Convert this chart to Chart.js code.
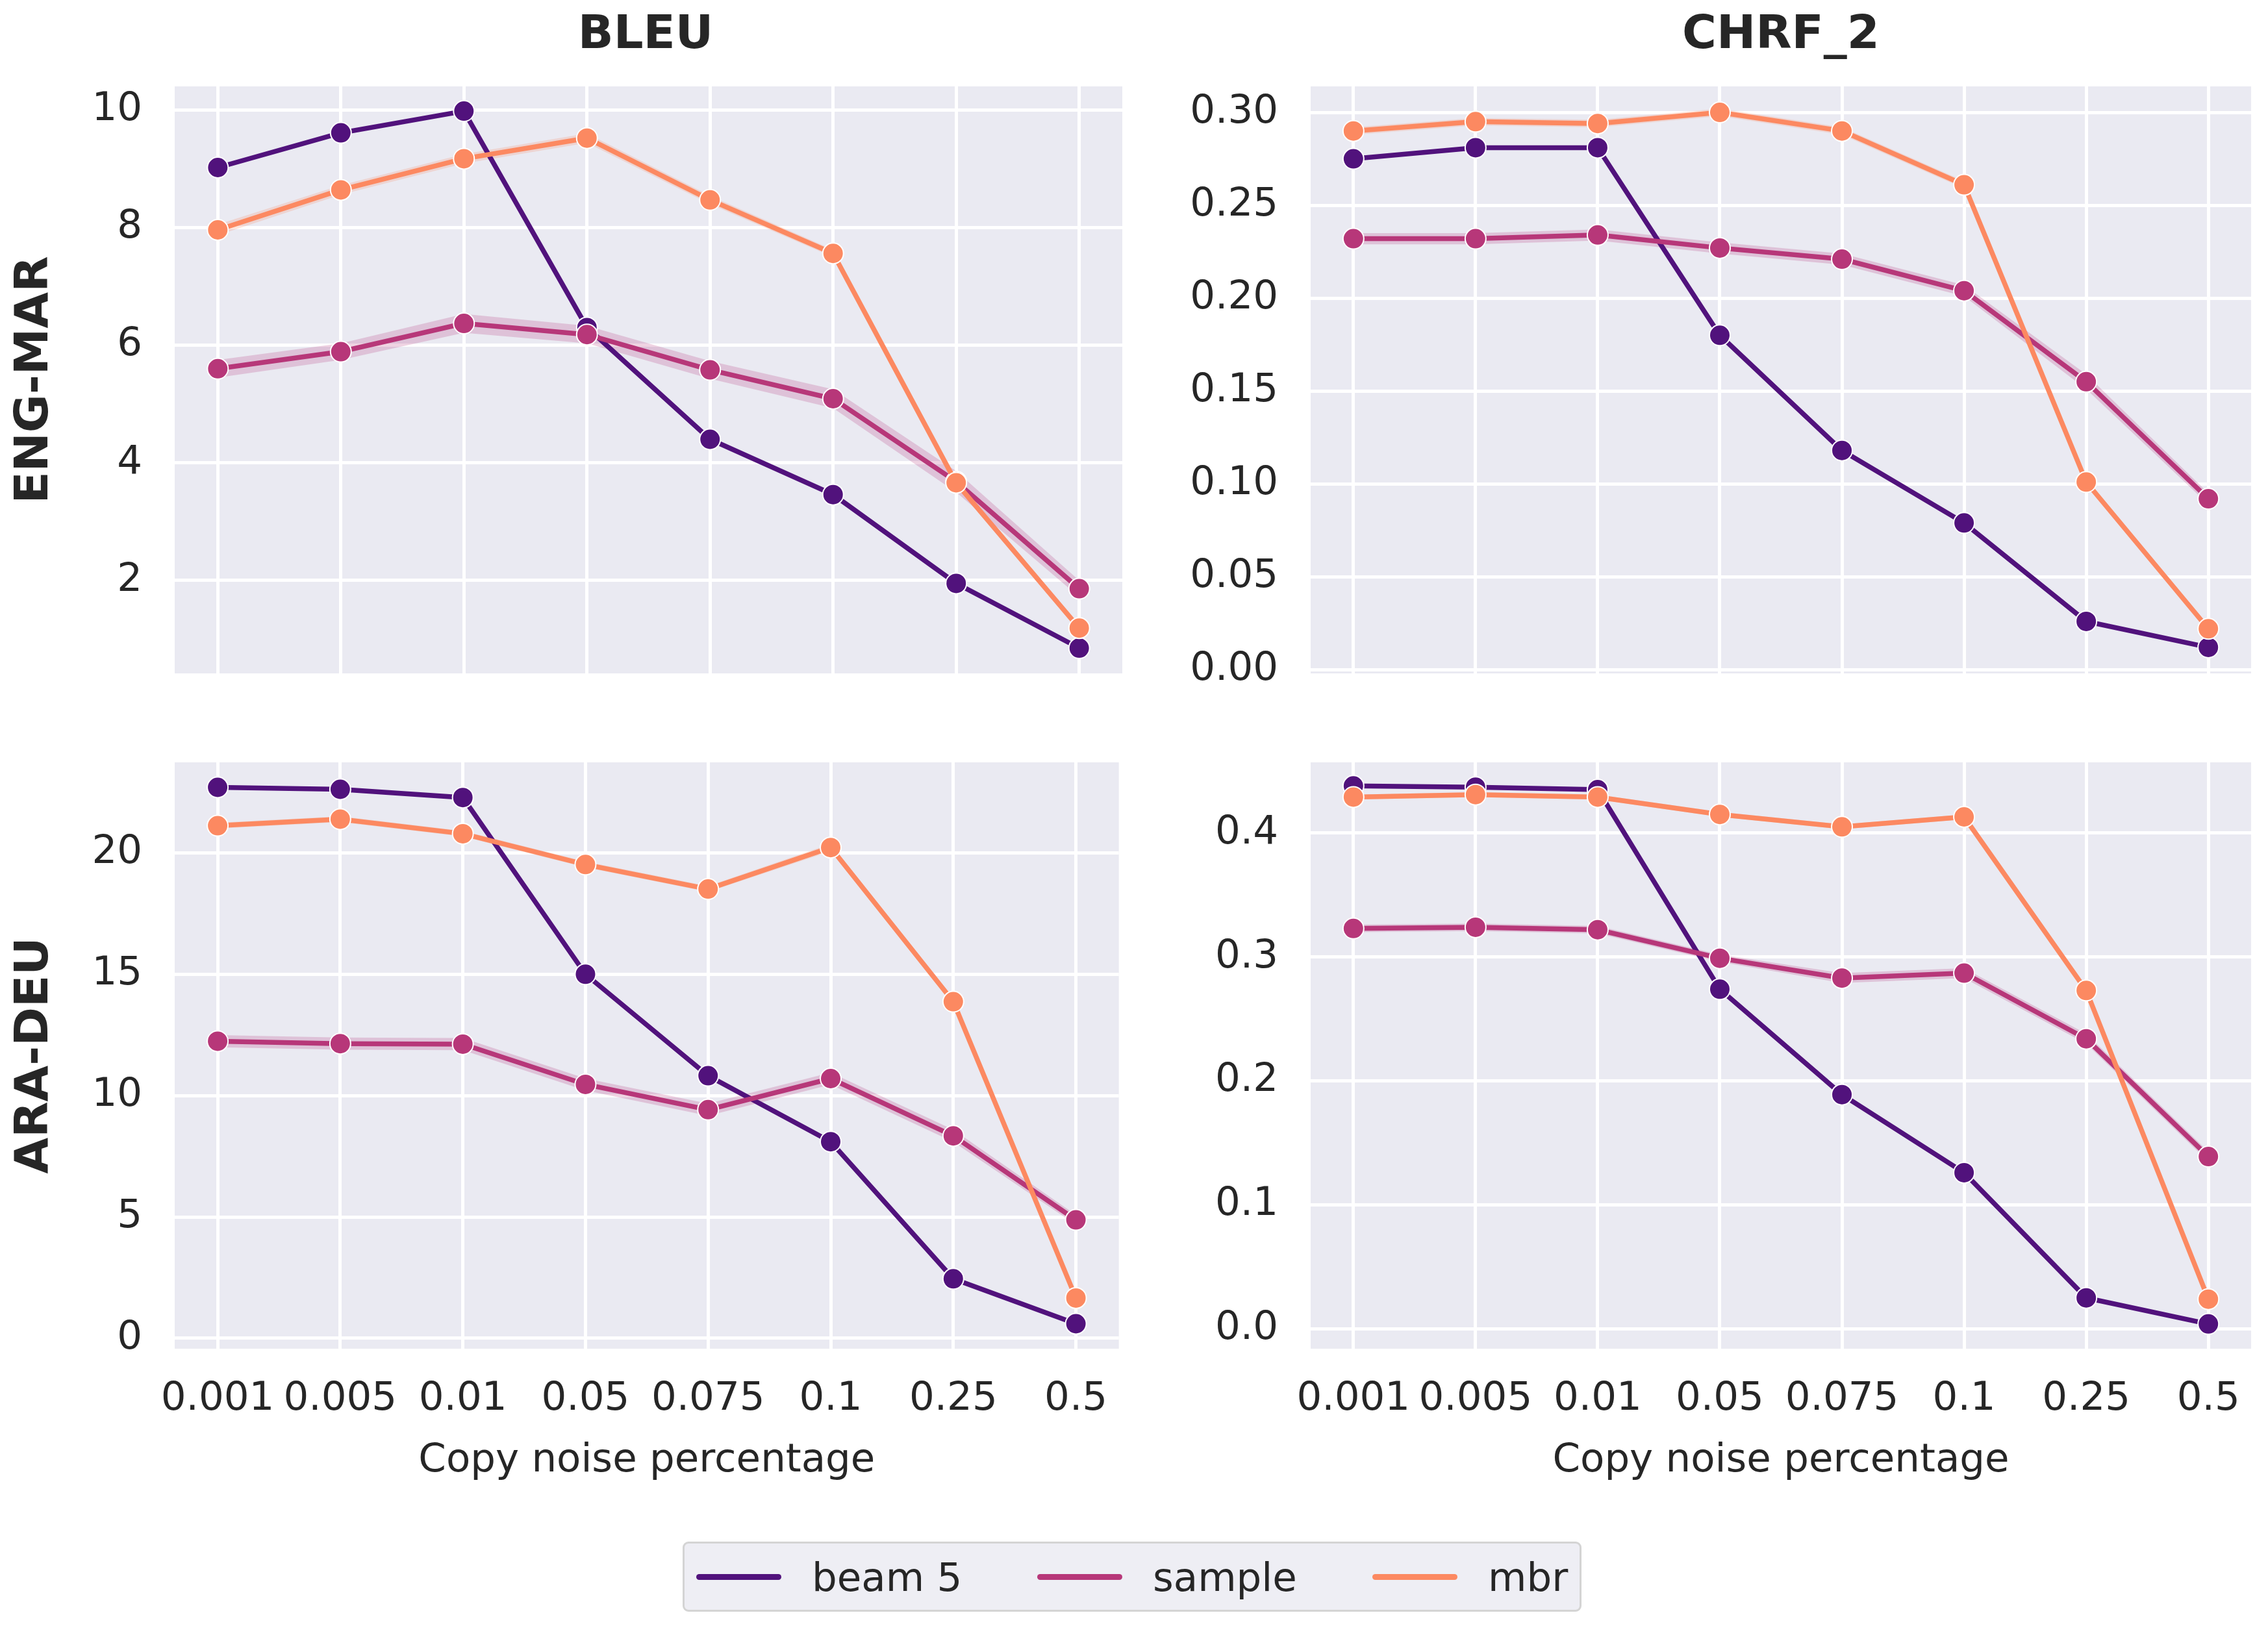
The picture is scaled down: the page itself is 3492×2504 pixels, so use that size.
<!DOCTYPE html>
<html>
<head>
<meta charset="utf-8">
<script src="https://cdn.jsdelivr.net/npm/chart.js@4.4.1/dist/chart.umd.min.js"></script>
<style>
html, body { margin: 0; padding: 0; background: #fff; }
body { width: 3492px; height: 2504px; position: relative; overflow: hidden; font-family: "DejaVu Sans", sans-serif; color: #262626; }
.panel { position: absolute; }
.coltitle { position: absolute; top: 6px; height: 86px; line-height: 86px; width: 1000px; margin-left: -500px;
  text-align: center; font-size: 72px; font-weight: bold; }
#legend { position: absolute; left: 1051px; top: 2374px; width: 1384px; height: 108px; box-sizing: border-box;
  background: #eeeef4; border: 3px solid #d4d4d4; border-radius: 9px; }
.item { position: absolute; top: 0; height: 100%; display: flex; align-items: center; font-size: 61px; }
.item .swatch { width: 131px; height: 9px; border-radius: 5px; margin-right: 47px; }
</style>
</head>
<body>
<div class="coltitle" style="left:994px">BLEU</div>
<div class="coltitle" style="left:2742px">CHRF_2</div>
<canvas id="engMarBleu" class="panel" style="left:0px;top:0px"></canvas>
<canvas id="engMarChrf" class="panel" style="left:1760px;top:0px"></canvas>
<canvas id="araDeuBleu" class="panel" style="left:0px;top:1100px"></canvas>
<canvas id="araDeuChrf" class="panel" style="left:1760px;top:1100px"></canvas>
<div id="legend"></div>
<script>
// x categories (copy noise percentage)
const categories = ['0.001', '0.005', '0.01', '0.05', '0.075', '0.1', '0.25', '0.5'];
const seriesNames = ['beam 5', 'sample', 'mbr'];
const seriesColors = ['#51127c', '#b73779', '#fc8961'];

// ENG-MAR, BLEU
const engMarBleuBeam   = [9.02, 9.61, 9.98, 6.30, 4.40, 3.46, 1.95, 0.85];
const engMarBleuSample = [5.60, 5.89, 6.37, 6.18, 5.58, 5.09, 3.68, 1.86];
const engMarBleuMbr    = [7.96, 8.64, 9.17, 9.52, 8.47, 7.56, 3.66, 1.19];
const engMarBleuSampleErr = [0.15, 0.14, 0.16, 0.15, 0.15, 0.16, 0.18, 0.14];
const engMarBleuMbrErr    = [0.09, 0.08, 0.08, 0.08, 0.07, 0.06, 0.05, 0.05];
const engMarBleuTicks = [2, 4, 6, 8, 10];

// ENG-MAR, CHRF_2
const engMarChrfBeam   = [0.275, 0.281, 0.281, 0.180, 0.118, 0.079, 0.026, 0.012];
const engMarChrfSample = [0.232, 0.232, 0.234, 0.227, 0.221, 0.204, 0.155, 0.092];
const engMarChrfMbr    = [0.290, 0.295, 0.294, 0.300, 0.290, 0.261, 0.101, 0.022];
const engMarChrfSampleErr = [0.003, 0.003, 0.003, 0.003, 0.003, 0.003, 0.004, 0.003];
const engMarChrfMbrErr    = [0.002, 0.002, 0.002, 0.002, 0.002, 0.002, 0.001, 0.001];
const engMarChrfTicks = [0, 0.05, 0.10, 0.15, 0.20, 0.25, 0.30];

// ARA-DEU, BLEU
const araDeuBleuBeam   = [22.70, 22.62, 22.28, 15.00, 10.82, 8.10, 2.45, 0.60];
const araDeuBleuSample = [12.24, 12.14, 12.12, 10.46, 9.42, 10.70, 8.34, 4.88];
const araDeuBleuMbr    = [21.12, 21.39, 20.79, 19.52, 18.51, 20.22, 13.87, 1.66];
const araDeuBleuSampleErr = [0.25, 0.25, 0.25, 0.25, 0.25, 0.25, 0.25, 0.2];
const araDeuBleuMbrErr    = [0.12, 0.12, 0.12, 0.12, 0.12, 0.15, 0.1, 0.08];
const araDeuBleuTicks = [0, 5, 10, 15, 20];

// ARA-DEU, CHRF_2
const araDeuChrfBeam   = [0.438, 0.437, 0.435, 0.274, 0.189, 0.126, 0.025, 0.004];
const araDeuChrfSample = [0.323, 0.324, 0.322, 0.299, 0.283, 0.287, 0.234, 0.139];
const araDeuChrfMbr    = [0.429, 0.431, 0.429, 0.415, 0.405, 0.413, 0.273, 0.024];
const araDeuChrfSampleErr = [0.003, 0.003, 0.003, 0.003, 0.004, 0.004, 0.004, 0.004];
const araDeuChrfMbrErr    = [0.002, 0.002, 0.002, 0.002, 0.002, 0.002, 0.002, 0.002];
const araDeuChrfTicks = [0, 0.1, 0.2, 0.3, 0.4];

const textColor = '#262626';
const fontFamily = '"DejaVu Sans", sans-serif';

Chart.defaults.font.family = fontFamily;
Chart.defaults.color = textColor;

// seaborn darkgrid panel background
const panelBg = {
    id: 'panelBg',
    beforeDraw(chart) {
        const a = chart.chartArea;
        chart.ctx.save();
        chart.ctx.fillStyle = '#eaeaf2';
        chart.ctx.fillRect(a.left, a.top, a.right - a.left, a.bottom - a.top);
        chart.ctx.restore();
    }
};

function toPoints(values) {
    return values.map((v, i) => ({ x: i, y: v }));
}

function withAlpha(hex, a) {
    const n = parseInt(hex.slice(1), 16);
    return 'rgba(' + (n >> 16) + ',' + ((n >> 8) & 255) + ',' + (n & 255) + ',' + a + ')';
}

function makePanel(id, cfg) {
    const canvas = document.getElementById(id);
    canvas.width = cfg.width;
    canvas.height = cfg.height;
    canvas.style.width = cfg.width + 'px';
    canvas.style.height = cfg.height + 'px';

    const datasets = [];
    // confidence bands first (drawn underneath)
    cfg.bands.forEach(b => {
        const lowerIndex = datasets.length;
        datasets.push({
            data: toPoints(b.mean.map((v, i) => v - b.err[i])),
            borderWidth: 0, pointRadius: 0, fill: false, order: 20
        });
        datasets.push({
            data: toPoints(b.mean.map((v, i) => v + b.err[i])),
            borderWidth: 0, pointRadius: 0,
            fill: lowerIndex, backgroundColor: withAlpha(b.color, 0.22), order: 20
        });
    });
    cfg.lines.forEach((values, k) => {
        datasets.push({
            label: seriesNames[k],
            data: toPoints(values),
            borderColor: seriesColors[k],
            backgroundColor: seriesColors[k],
            borderWidth: 7.5,
            pointRadius: 16,
            pointBorderColor: '#ffffff',
            pointBorderWidth: 2,
            pointBackgroundColor: seriesColors[k],
            tension: 0,
            order: 3 - k
        });
    });

    return new Chart(canvas, {
        type: 'line',
        data: { datasets: datasets },
        plugins: [panelBg],
        options: {
            responsive: false,
            animation: false,
            devicePixelRatio: 1,
            layout: { padding: cfg.padding },
            plugins: {
                legend: { display: false },
                tooltip: { enabled: false },
                title: { display: false }
            },
            scales: {
                x: {
                    type: 'linear',
                    min: -0.35,
                    max: 7.35,
                    afterBuildTicks: axis => { axis.ticks = categories.map((c, i) => ({ value: i })); },
                    afterFit: axis => { axis.height = cfg.xAxisHeight; },
                    border: { display: false },
                    grid: { color: '#ffffff', lineWidth: 5, drawTicks: false },
                    ticks: {
                        display: cfg.showX,
                        font: { size: 61 },
                        padding: 42,
                        maxRotation: 0,
                        autoSkip: false,
                        callback: v => categories[v]
                    },
                    title: {
                        display: cfg.showX,
                        text: 'Copy noise percentage',
                        font: { size: 61 },
                        padding: { top: 0, bottom: 33 }
                    }
                },
                y: {
                    min: cfg.yMin,
                    max: cfg.yMax,
                    afterBuildTicks: axis => { axis.ticks = cfg.yTicks.map(v => ({ value: v })); },
                    afterFit: axis => { axis.width = cfg.yAxisWidth; },
                    border: { display: false },
                    grid: { color: '#ffffff', lineWidth: 5, drawTicks: true, tickLength: 50, tickColor: 'rgba(0,0,0,0)' },
                    ticks: {
                        font: { size: 61 },
                        padding: 0,
                        callback: v => v.toFixed(cfg.decimals)
                    },
                    title: cfg.rowLabel ? {
                        display: true,
                        text: cfg.rowLabel,
                        font: { size: 72, weight: 'bold' },
                        padding: { top: 11, bottom: 0 }
                    } : { display: false }
                }
            }
        }
    });
}

makePanel('engMarBleu', {
    width: 1748, height: 1090, yAxisWidth: 269, xAxisHeight: 0,
    padding: { top: 133, right: 20, bottom: 53, left: 0 },
    rowLabel: 'ENG-MAR', showX: false,
    yMin: 0.42, yMax: 10.40, yTicks: engMarBleuTicks, decimals: 0,
    lines: [engMarBleuBeam, engMarBleuSample, engMarBleuMbr],
    bands: [
        { mean: engMarBleuSample, err: engMarBleuSampleErr, color: seriesColors[1] },
        { mean: engMarBleuMbr, err: engMarBleuMbrErr, color: seriesColors[2] }
    ]
});

makePanel('engMarChrf', {
    width: 1732, height: 1090, yAxisWidth: 258, xAxisHeight: 0,
    padding: { top: 133, right: 26, bottom: 53, left: 0 },
    rowLabel: null, showX: false,
    yMin: -0.002, yMax: 0.314, yTicks: engMarChrfTicks, decimals: 2,
    lines: [engMarChrfBeam, engMarChrfSample, engMarChrfMbr],
    bands: [
        { mean: engMarChrfSample, err: engMarChrfSampleErr, color: seriesColors[1] },
        { mean: engMarChrfMbr, err: engMarChrfMbrErr, color: seriesColors[2] }
    ]
});

makePanel('araDeuBleu', {
    width: 1748, height: 1220, yAxisWidth: 269, xAxisHeight: 243,
    padding: { top: 74, right: 20, bottom: 0, left: 0 },
    rowLabel: 'ARA-DEU', showX: true,
    yMin: -0.43, yMax: 23.73, yTicks: araDeuBleuTicks, decimals: 0,
    lines: [araDeuBleuBeam, araDeuBleuSample, araDeuBleuMbr],
    bands: [
        { mean: araDeuBleuSample, err: araDeuBleuSampleErr, color: seriesColors[1] },
        { mean: araDeuBleuMbr, err: araDeuBleuMbrErr, color: seriesColors[2] }
    ]
});

makePanel('araDeuChrf', {
    width: 1732, height: 1220, yAxisWidth: 258, xAxisHeight: 243,
    padding: { top: 74, right: 26, bottom: 0, left: 0 },
    rowLabel: null, showX: true,
    yMin: -0.016, yMax: 0.457, yTicks: araDeuChrfTicks, decimals: 1,
    lines: [araDeuChrfBeam, araDeuChrfSample, araDeuChrfMbr],
    bands: [
        { mean: araDeuChrfSample, err: araDeuChrfSampleErr, color: seriesColors[1] },
        { mean: araDeuChrfMbr, err: araDeuChrfMbrErr, color: seriesColors[2] }
    ]
});

// figure legend
const legend = document.getElementById('legend');
const legendX = [21, 546, 1062];
seriesNames.forEach((name, k) => {
    const item = document.createElement('div');
    item.className = 'item';
    item.style.left = (legendX[k] - 3) + 'px';
    const sw = document.createElement('span');
    sw.className = 'swatch';
    sw.style.background = seriesColors[k];
    const label = document.createElement('span');
    label.textContent = name;
    item.appendChild(sw);
    item.appendChild(label);
    legend.appendChild(item);
});
</script>
</body>
</html>
